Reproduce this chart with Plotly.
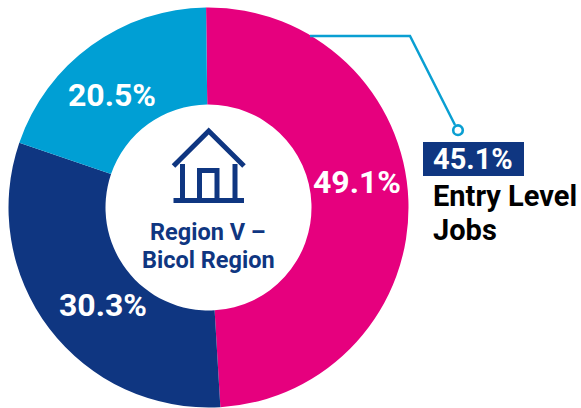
import plotly.graph_objects as go

W, H = 581, 408
categories = ["Entry Level Jobs share", "Dark segment", "Light segment"]
slice_values = [49.25, 31.2, 19.55]   # arc sizes as drawn in the picture
label_texts = ["49.1%", "30.3%", "20.5%"]
colors = ["#E6007E", "#0F3681", "#009FD4"]
center_lines = ["Region V –", "Bicol Region"]
callout_value = "45.1%"
callout_lines = ["Entry Level", "Jobs"]
label_xy = [(357, 182), (102.5, 305), (111.5, 94.5)]

NAVY = "#0F3681"
BLUE = "#0A9FD2"
FONT = "Roboto"

def px(x): return x / W
def py(y): return 1 - y / H
def path(points, close=False):
    d = "M " + " L ".join(f"{px(x):.5f},{py(y):.5f}" for x, y in points)
    return d + (" Z" if close else "")

fig = go.Figure(go.Pie(
    labels=categories, values=slice_values, sort=False, direction="clockwise",
    rotation=-0.7, hole=0.515, marker=dict(colors=colors, line=dict(width=0)),
    textinfo="none", hoverinfo="label+value", showlegend=False,
    domain=dict(x=[px(8.5), px(408.5)], y=[py(407.5), py(7.5)]),
))

shapes = []
def line(points, color=NAVY, width=5):
    shapes.append(dict(type="path", path=path(points), xref="paper", yref="paper",
                       line=dict(color=color, width=width), layer="above"))

# house icon
line([(173.5, 166), (208.7, 131), (244, 166)])
line([(182.5, 164), (182.5, 200)])
line([(235, 164), (235, 200)])
line([(173.5, 200.5), (244, 200.5)])
line([(199.5, 200), (199.5, 170.5), (217, 170.5), (217, 200)])
# callout leader
line([(310, 36), (410, 36), (455, 125)], BLUE, 2.5)
shapes.append(dict(type="circle", xref="paper", yref="paper",
                   x0=px(453.2), x1=px(462.8), y0=py(135), y1=py(125.4),
                   line=dict(color=BLUE, width=2.6), fillcolor="white"))
# callout box
shapes.append(dict(type="rect", xref="paper", yref="paper",
                   x0=px(423), x1=px(524), y0=py(176), y1=py(142),
                   line=dict(width=0), fillcolor=NAVY, layer="below"))

ann = []
def text(s, x, y, size, color, anchor="center"):
    ann.append(dict(text=f"<b>{s}</b>", x=px(x), y=py(y), xref="paper", yref="paper",
                    xanchor=anchor, yanchor="middle", showarrow=False,
                    font=dict(family=FONT, size=size, color=color)))

for s, (x, y) in zip(label_texts, label_xy):
    text(s, x, y, 32, "white")
text(center_lines[0], 207.5, 232, 23.5, NAVY)
text(center_lines[1], 208.5, 260, 23.5, NAVY)
text(callout_value, 431, 159, 29, "white", "left")
text(callout_lines[0], 431, 196, 29, "black", "left")
text(callout_lines[1], 431, 230, 29, "black", "left")

fig.update_layout(width=W, height=H, margin=dict(l=0, r=0, t=0, b=0),
                  paper_bgcolor="white", plot_bgcolor="white",
                  shapes=shapes, annotations=ann)
fig.write_html("out.html", post_script="document.body.style.margin='0';",
               config=dict(displayModeBar=False))
